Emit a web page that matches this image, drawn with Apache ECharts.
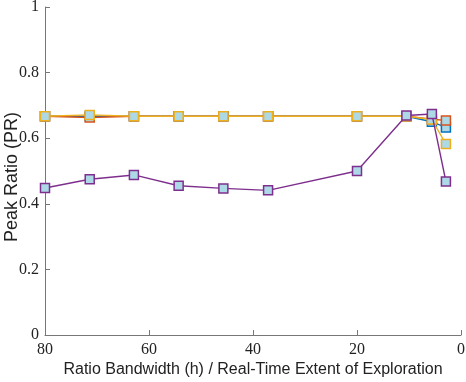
<!DOCTYPE html>
<html>
<head>
<meta charset="utf-8">
<script src="https://cdn.jsdelivr.net/npm/echarts@6/dist/echarts.min.js"></script>
<style>html,body{margin:0;padding:0;background:#fff}#c{width:466px;height:382px}</style>
</head>
<body>
<div id="c"></div>
<script>
const xValues = [80, 71.4, 62.9, 54.3, 45.7, 37.1, 20, 10.5, 5.6, 2.9];
const seriesBlue   = [0.667, 0.667, 0.667, 0.667, 0.667, 0.667, 0.667, 0.667, 0.650, 0.633];
const seriesOrange = [0.667, 0.663, 0.667, 0.667, 0.667, 0.667, 0.667, 0.667, 0.658, 0.654];
const seriesYellow = [0.667, 0.671, 0.667, 0.667, 0.667, 0.667, 0.667, 0.667, 0.657, 0.582];
const seriesPurple = [0.448, 0.475, 0.488, 0.455, 0.447, 0.441, 0.500, 0.669, 0.674, 0.468];
const xTicks = [0, 20, 40, 60, 80];
const yTicks = [0, 0.2, 0.4, 0.6, 0.8, 1];

const colors = ['#0072BD', '#D95319', '#EDB120', '#7E2F8E'];
const allSeries = [seriesBlue, seriesOrange, seriesYellow, seriesPurple];

const chart = echarts.init(document.getElementById('c'));
chart.setOption({
  animation: false,
  grid: {left: 45, right: 5, top: 7, bottom: 47, containLabel: false, outerBoundsMode: 'none'},
  xAxis: {
    type: 'value', inverse: true, min: xTicks[0], max: xTicks[xTicks.length - 1], interval: 20,
    position: 'bottom',
    name: 'Ratio Bandwidth (h) / Real-Time Extent of Exploration',
    nameLocation: 'middle', nameGap: 27, nameMoveOverlap: false,
    nameTextStyle: {fontFamily: 'Liberation Sans', fontSize: 16, color: '#222'},
    axisLine: {onZero: false, lineStyle: {color: '#777', width: 1}},
    axisTick: {inside: true, length: 5, lineStyle: {color: '#777'}},
    axisLabel: {fontFamily: 'Liberation Serif', fontSize: 16, color: '#222', margin: 7},
    splitLine: {show: false}
  },
  yAxis: {
    type: 'value', min: yTicks[0], max: yTicks[yTicks.length - 1], interval: 0.2,
    position: 'left',
    name: 'Peak Ratio (PR)',
    nameLocation: 'middle', nameGap: 24, nameMoveOverlap: false,
    nameTextStyle: {fontFamily: 'Liberation Sans', fontSize: 18, color: '#222', padding: [0, 12, 0, 0]},
    axisLine: {show: true, onZero: false, lineStyle: {color: '#777', width: 1}},
    axisTick: {show: true, inside: true, length: 5, lineStyle: {color: '#777'}},
    axisLabel: {fontFamily: 'Liberation Serif', fontSize: 16, color: '#222', margin: 6,
      formatter: v => String(Math.round(v * 10) / 10)},
    splitLine: {show: false}
  },
  series: allSeries.map((vals, i) => ({
    type: 'line',
    data: xValues.map((x, j) => [x, vals[j]]),
    symbol: 'rect', symbolSize: 9,
    lineStyle: {color: colors[i], width: 1.4},
    itemStyle: {color: '#ADD8E6', borderColor: colors[i], borderWidth: 1.5},
    z: 2 + i
  }))
});
</script>
</body>
</html>
